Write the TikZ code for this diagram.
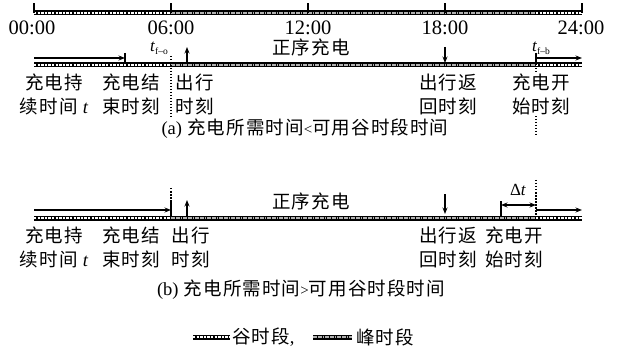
\documentclass[tikz,border=0pt]{standalone}
\usepackage{fontspec}
\setmainfont{Liberation Serif}
\newfontfamily\cjk[LetterSpace=6]{Noto Sans CJK SC}
\usetikzlibrary{arrows.meta}
\begin{document}
\begin{tikzpicture}[x=1pt,y=-1pt,
 barbase/.style={line width=5pt,black},
 valin/.style={line width=1.5pt,white,dash pattern=on 2.4pt off 1.2pt},
 peakin/.style={line width=2pt,black!30,dash pattern=on 1.8pt off 0.6pt},
 tickline/.style={line width=1.3pt},
 arr/.style={line width=1.3pt,-{Stealth[length=6.5pt,width=5pt]}},
 darr/.style={line width=1.3pt,{Stealth[length=6.5pt,width=5pt]}-{Stealth[length=6.5pt,width=5pt]}},
 dotline/.style={line width=1.4pt,dash pattern=on 1.5pt off 1.5pt},
 lbl/.style={font=\cjk\fontsize{18.5}{24}\selectfont, inner sep=1pt, align=center},
 num/.style={font=\fontsize{20.5}{21}\selectfont, inner sep=0pt},
 sub/.style={font=\fontsize{17}{18}\selectfont, inner sep=0pt},
]
\useasboundingbox (0,0) rectangle (617,363);

% ---------- top time axis ----------
\coordinate (T0) at (34,13);
\coordinate (T6) at (171,13);
\coordinate (T12) at (308,13);
\coordinate (T18) at (445,13);
\coordinate (T22) at (536,13);
\coordinate (T24) at (582,13);
\draw[barbase] (T0) -- (T24);
\draw[valin] (T0) -- (T6);
\draw[peakin] (T6) -- (T22);
\draw[valin] (T22) -- (T24);
\foreach \n in {T0,T6,T12,T18,T24}{
  \draw[tickline] (\n) -- ++(0,-10);
}
\node[num] (h0) at (32,28) {00:00};
\node[num] (h6) at (171,28) {06:00};
\node[num] (h12) at (308,28) {12:00};
\node[num] (h18) at (445,28) {18:00};
\node[num] (h24) at (581,28) {24:00};

% ---------- (a) ----------
\coordinate (A0) at (34,65);
\coordinate (A6) at (171,65);
\coordinate (A22) at (536,65);
\coordinate (A24) at (582,65);
\draw[barbase] (A0) -- (A24);
\draw[valin] (A0) -- (A6);
\draw[peakin] (A6) -- (A22);
\draw[valin] (A22) -- (A24);

\coordinate (aS) at (34,58);
\coordinate (aE) at (125,58);
\coordinate (aEt) at (125,53);
\coordinate (aEb) at (125,63);
\draw[arr] (aS) -- (aE);
\draw[tickline] (aEt) -- (aEb);

\coordinate (aD1) at (171,56);
\coordinate (aD2) at (171,118);
\draw[dotline] (aD1) -- (aD2);
\node[sub] (tfo) at (159,48) {\textit{t}\raisebox{-3pt}{\fontsize{9.5}{10}\selectfont f–o}};

\coordinate (aU1) at (187,63);
\coordinate (aU2) at (187,47);
\draw[arr] (aU1) -- (aU2);
\node[lbl] (aZ) at (311,47) {正序充电};
\coordinate (aR1) at (445,47);
\coordinate (aR2) at (445,63);
\draw[arr] (aR1) -- (aR2);

\coordinate (aB1) at (536,53);
\coordinate (aB2) at (536,65);
\coordinate (aB3) at (536,58);
\coordinate (aB4) at (582,58);
\draw[tickline] (aB1) -- (aB2);
\draw[arr] (aB3) -- (aB4);
\node[sub] (tfb) at (541,48) {\textit{t}\raisebox{-3pt}{\fontsize{9.5}{10}\selectfont f–b}};
\coordinate (aX1) at (536,68);
\coordinate (aX2) at (536,135);
\draw[dotline] (aX1) -- (aX2);

\node[lbl] (a1) at (54,94) {充电持\\续时间 {\rmfamily\itshape t}};
\node[lbl] (a2) at (131,94) {充电结\\束时刻};
\node[lbl] (a3) at (195,94) {出行\\时刻};
\node[lbl] (a4) at (448,94) {出行返\\回时刻};
\node[lbl,fill=white] (a5) at (541,94) {充电开\\始时刻};

\node[lbl] (capa) at (305,129) {{\rmfamily (a)} 充电所需时间{\rmfamily\fontsize{15}{15}\selectfont <}可用谷时段时间};

% ---------- (b) ----------
\coordinate (B0) at (34,218);
\coordinate (B6) at (171,218);
\coordinate (B22) at (536,218);
\coordinate (B24) at (582,218);
\draw[barbase] (B0) -- (B24);
\draw[valin] (B0) -- (B6);
\draw[peakin] (B6) -- (B22);
\draw[valin] (B22) -- (B24);

\coordinate (bS) at (34,210);
\coordinate (bE) at (171,210);
\draw[arr] (bS) -- (bE);
\coordinate (bV1) at (171,200);
\coordinate (bV2) at (171,217);
\coordinate (bV0) at (171,188);
\draw[tickline] (bV1) -- (bV2);
\draw[dotline] (bV0) -- (bV1);

\coordinate (bU1) at (187,216);
\coordinate (bU2) at (187,200);
\draw[arr] (bU1) -- (bU2);
\node[lbl] (bZ) at (311,201) {正序充电};
\coordinate (bR1) at (445,194);
\coordinate (bR2) at (445,214);
\draw[arr] (bR1) -- (bR2);

\coordinate (bD1) at (501,201);
\coordinate (bD2) at (501,216);
\coordinate (bDa) at (501,205);
\coordinate (bDb) at (536,205);
\draw[tickline] (bD1) -- (bD2);
\draw[darr] (bDa) -- (bDb);
\node[sub] (dt) at (518,190) {Δ\textit{t}};
\coordinate (bX1) at (536,180);
\coordinate (bX2) at (536,217);
\draw[dotline] (bX1) -- (bX2);
\coordinate (bA1) at (536,210);
\coordinate (bA2) at (582,210);
\draw[arr] (bA1) -- (bA2);

\node[lbl] (b1) at (54,247) {充电持\\续时间 {\rmfamily\itshape t}};
\node[lbl] (b2) at (131,247) {充电结\\束时刻};
\node[lbl] (b3) at (191,247) {出行\\时刻};
\node[lbl] (b4) at (448,247) {出行返\\回时刻};
\node[lbl] (b5) at (514,247) {充电开\\始时刻};

\node[lbl] (capb) at (301,290) {{\rmfamily (b)} 充电所需时间{\rmfamily\fontsize{15}{15}\selectfont >}可用谷时段时间};

% ---------- legend ----------
\coordinate (L1) at (193,337);
\coordinate (L2) at (230,337);
\coordinate (L3) at (313,337);
\coordinate (L4) at (352,337);
\draw[barbase] (L1) -- (L2);
\draw[valin] (L1) -- (L2);
\draw[barbase] (L3) -- (L4);
\draw[peakin] (L3) -- (L4);
\node[lbl,anchor=west] (lg1) at (231,337) {谷时段{\rmfamily ,}};
\node[lbl,anchor=west] (lg2) at (355,337) {峰时段};
\end{tikzpicture}
\end{document}
